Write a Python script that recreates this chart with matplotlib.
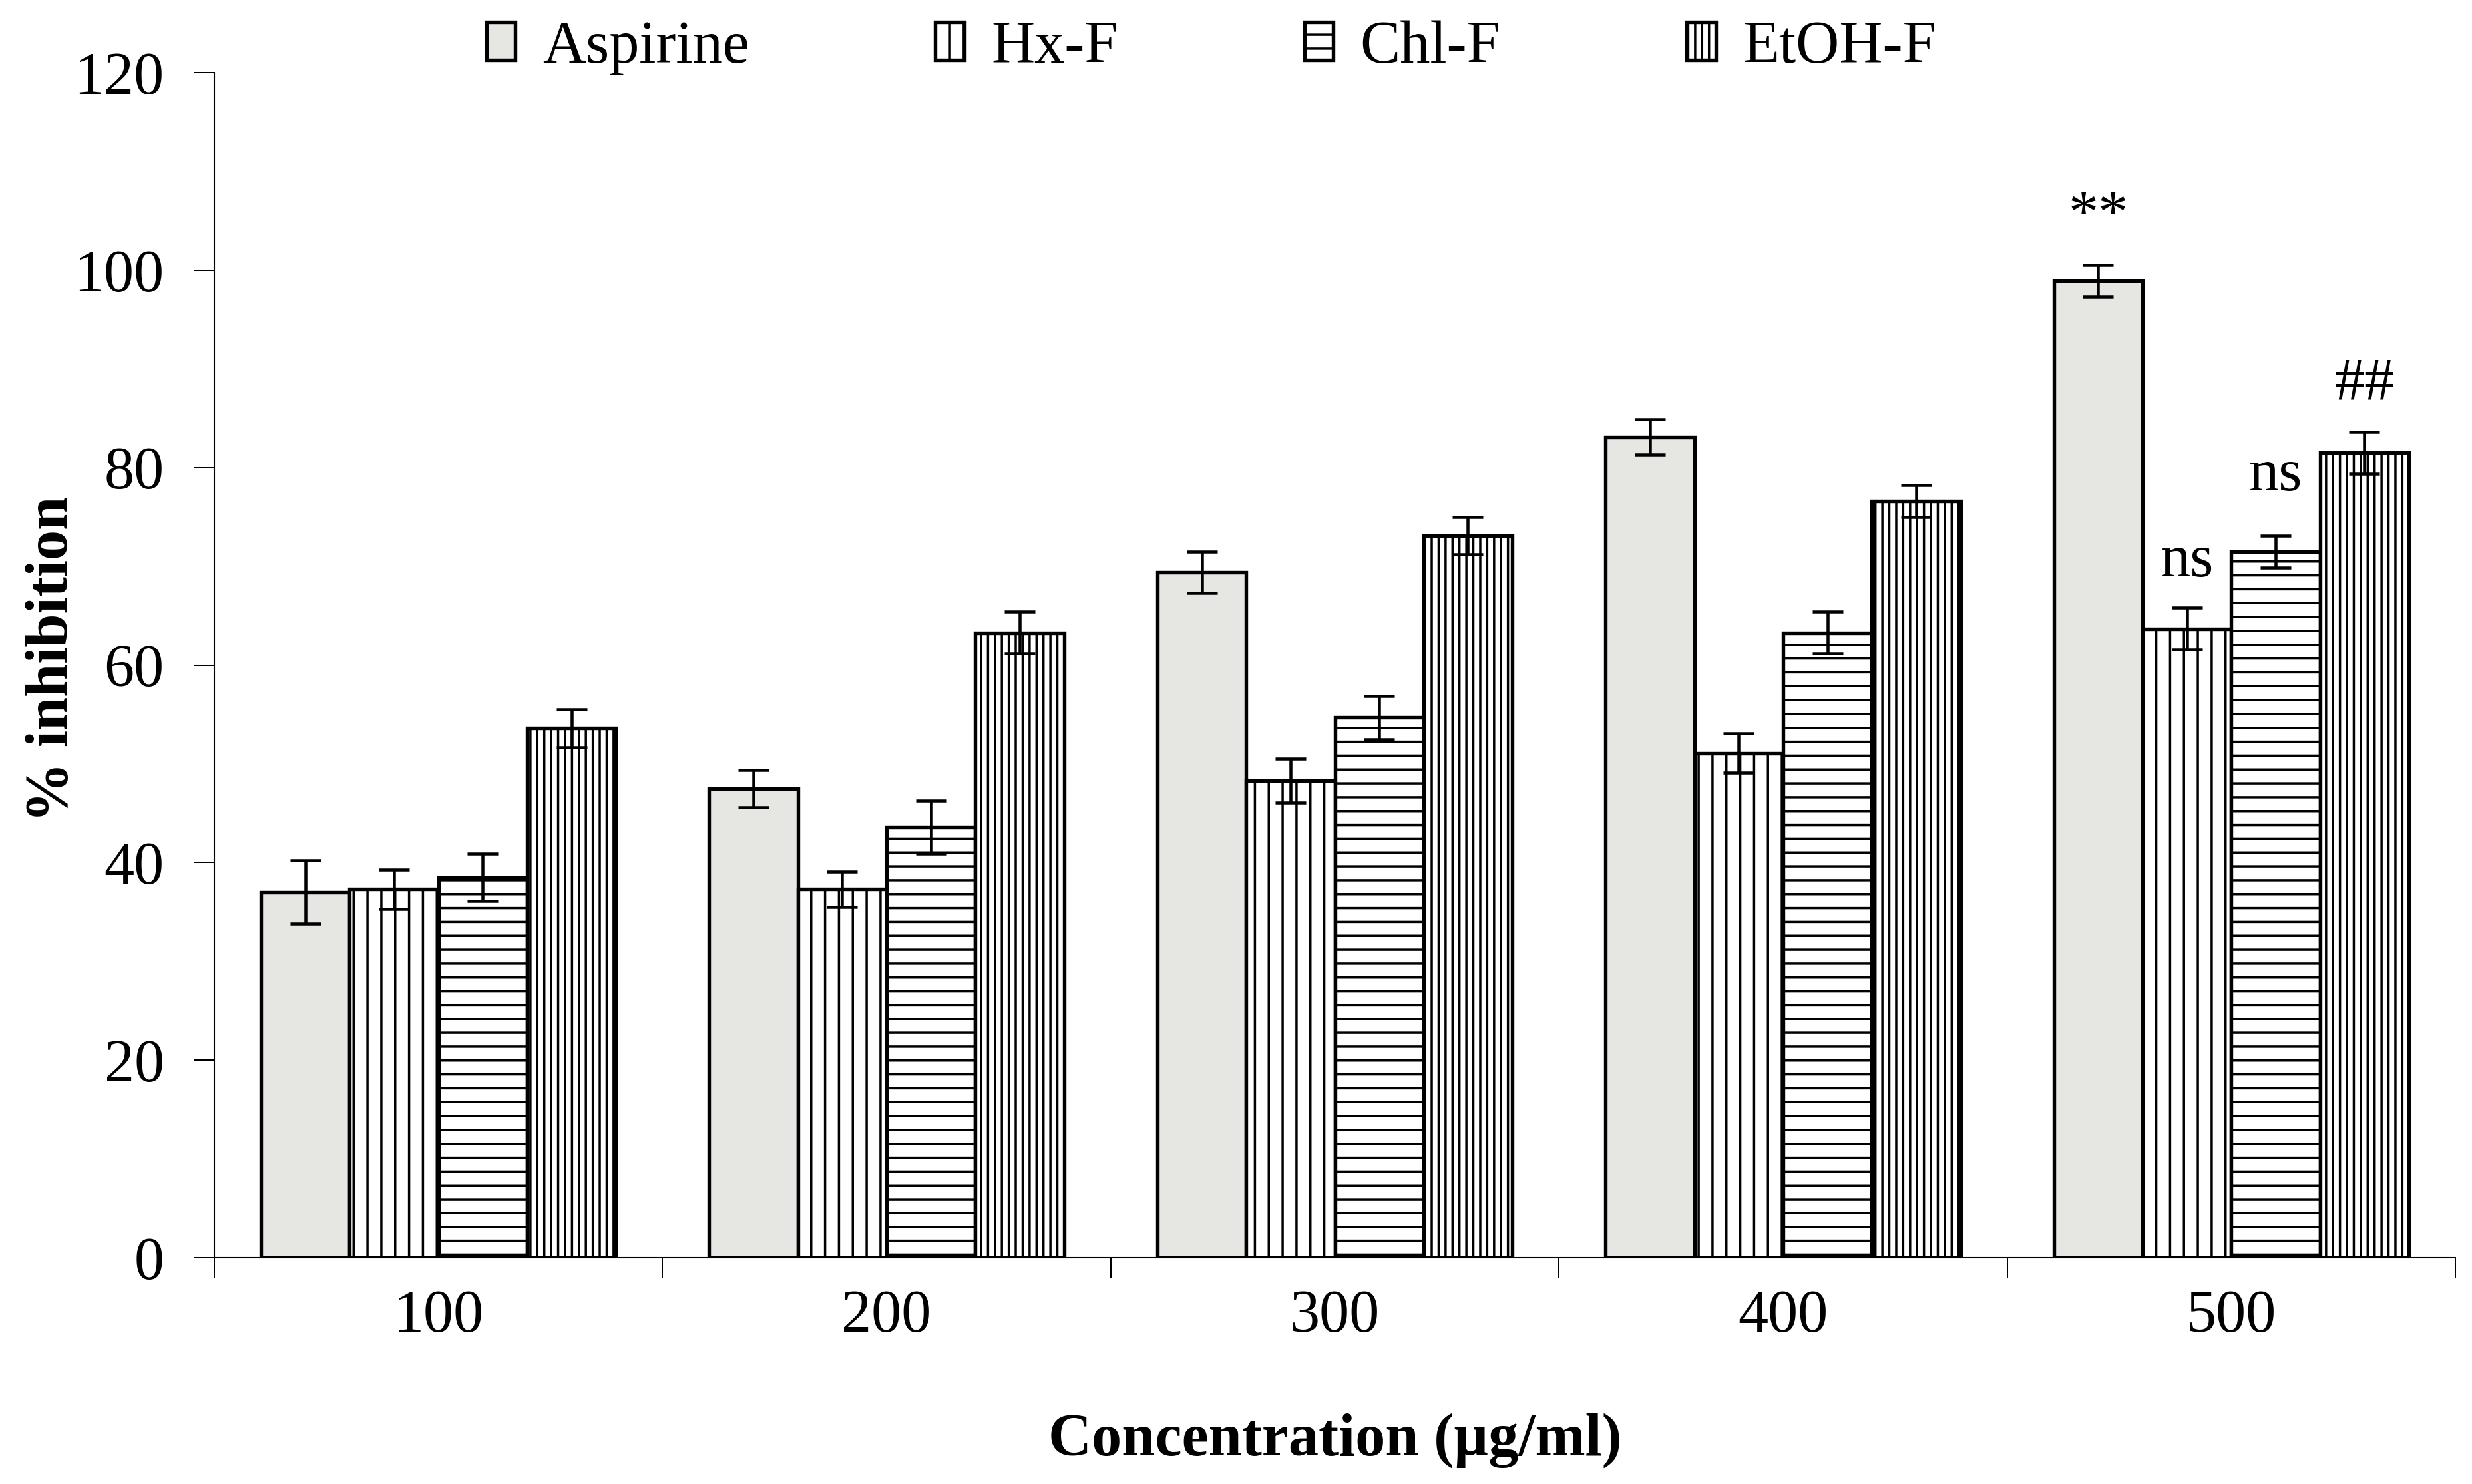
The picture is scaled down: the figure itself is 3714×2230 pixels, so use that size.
import matplotlib
matplotlib.use('Agg')
import matplotlib.pyplot as plt
import numpy as np

# ---------------- data ----------------
concentrations = ['100', '200', '300', '400', '500']
series_names = ['Aspirine', 'Hx-F', 'Chl-F', 'EtOH-F']

aspirine = [37.0, 47.5, 69.4, 83.1, 98.9]
aspirine_err = [3.2, 1.9, 2.1, 1.8, 1.6]
hxf = [37.3, 37.3, 48.3, 51.1, 63.7]
hxf_err = [2.0, 1.8, 2.2, 2.0, 2.1]
chlf = [38.5, 43.6, 54.7, 63.3, 71.5]
chlf_err = [2.4, 2.7, 2.2, 2.1, 1.6]
etohf = [53.6, 63.3, 73.1, 76.6, 81.5]
etohf_err = [1.9, 2.1, 1.9, 1.6, 2.1]

# significance labels at 500 µg/ml: (series index, text, baseline y)
annot_series = [0, 1, 2, 3]
annot_texts = ['**', 'ns', 'ns', '##']
annot_y = [103.8, 69.0, 77.7, 86.9]

y_ticks = [0, 20, 40, 60, 80, 100, 120]

# ---------------- style ----------------
plt.rcParams['font.family'] = ['Liberation Serif', 'DejaVu Serif']
plt.rcParams['hatch.linewidth'] = 2.0
plt.rcParams['hatch.color'] = 'black'

W, H, DPI = 3714, 2230, 125
fig = plt.figure(figsize=(W / DPI, H / DPI), dpi=DPI)
ax = fig.add_axes([322 / W, 1 - 1890 / H, 3367 / W, 1781 / H])

values = [aspirine, hxf, chlf, etohf]
errors = [aspirine_err, hxf_err, chlf_err, etohf_err]
faces = ['#e6e6e3', 'white', 'white', 'white']
hatches = [None, '|', '-', '||']

x = np.arange(len(concentrations))
bw = 0.198
FS = 52
handles = []
for i, (vals, errs) in enumerate(zip(values, errors)):
    pos = x + (i - 1.5) * bw
    b = ax.bar(pos, vals, width=bw, color=faces[i], edgecolor='black',
               linewidth=3.1, hatch=hatches[i], label=series_names[i], zorder=2)
    handles.append(b)
    ax.errorbar(pos, vals, yerr=errs, fmt='none', ecolor='black',
                elinewidth=2.6, capsize=13.5, capthick=2.6, zorder=3)

for si, txt, yv in zip(annot_series, annot_texts, annot_y):
    ax.text(x[-1] + (si - 1.5) * bw, yv, txt, ha='center', va='baseline',
            fontsize=FS)

ax.set_xlim(-0.5, len(concentrations) - 0.5)
ax.set_ylim(0, 120)
ax.set_yticks(y_ticks)
ax.set_yticklabels([str(t) for t in y_ticks])
ax.set_xticks(np.arange(-0.5, len(concentrations)), [''] * (len(concentrations) + 1))
ax.set_xticks(x, concentrations, minor=True)

ax.tick_params(axis='y', which='major', direction='out', length=17.3, width=1.15,
               labelsize=FS, pad=26)
ax.tick_params(axis='x', which='major', direction='out', length=17.3, width=1.15)
ax.tick_params(axis='x', which='minor', length=0, labelsize=FS, pad=27.6)

for s in ['top', 'right']:
    ax.spines[s].set_visible(False)
for s in ['left', 'bottom']:
    ax.spines[s].set_linewidth(1.2)

ax.set_xlabel('Concentration (µg/ml)', fontsize=FS, fontweight='bold')
ax.xaxis.set_label_coords(0.5, -0.131)
ax.set_ylabel('% inhibition', fontsize=FS, fontweight='bold')
ax.yaxis.set_label_coords(-0.06, 0.505)

leg = ax.legend(handles, series_names, loc='center', bbox_to_anchor=(0.49, 0.968),
                bbox_transform=fig.transFigure, ncol=4, frameon=False, fontsize=FS,
                handlelength=0.48, handleheight=0.6, handletextpad=0.45,
                columnspacing=3.1, borderaxespad=0, borderpad=0)

fig.savefig('out.png', dpi=DPI, facecolor='white')
